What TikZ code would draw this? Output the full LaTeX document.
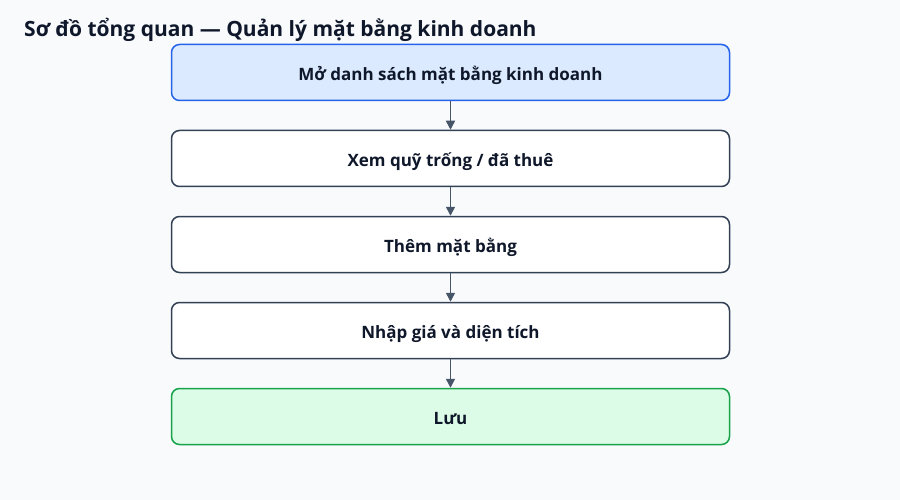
\documentclass[tikz,border=0pt]{standalone}
\usepackage{fontspec}
\setmainfont{Open Sans}
\usepackage{tikz}
\usetikzlibrary{arrows.meta}

\definecolor{bgcol}{HTML}{F8FAFC}
\definecolor{inkcol}{HTML}{0F172A}
\definecolor{edgecol}{HTML}{334155}
\definecolor{arrowcol}{HTML}{475569}
\definecolor{startfill}{HTML}{DBEAFE}
\definecolor{startdraw}{HTML}{2563EB}
\definecolor{endfill}{HTML}{DCFCE7}
\definecolor{enddraw}{HTML}{16A34A}

\begin{document}
\begin{tikzpicture}[x=1pt,y=1pt,
    stepbox/.style={draw=edgecol,fill=white,line width=1.5pt,rounded corners=8pt,
      minimum width=558pt,minimum height=56pt,inner sep=0pt,text height=18pt,text depth=2pt,
      font=\fontsize{17}{20}\selectfont\bfseries,text=inkcol},
    startbox/.style={stepbox,draw=startdraw,fill=startfill},
    endbox/.style={stepbox,draw=enddraw,fill=endfill},
    flow/.style={draw=arrowcol,line width=1.5pt,-{Triangle[length=9pt,width=9pt]}}]
    \useasboundingbox[fill=bgcol] (0,0) rectangle (900,-500);
    \node[anchor=base west,inner sep=0pt,font=\fontsize{21}{25}\selectfont\bfseries,text=inkcol] (title) at (24,-37) {Sơ đồ tổng quan — Quản lý mặt bằng kinh doanh};
    % cac buoc
    \node[startbox] (s1) at (450.5,-72.5) {Mở danh sách mặt bằng kinh doanh};
    \node[stepbox] (s2) at (450.5,-158.5) {Xem quỹ trống / đã thuê};
    \node[stepbox] (s3) at (450.5,-244.5) {Thêm mặt bằng};
    \node[stepbox] (s4) at (450.5,-330.5) {Nhập giá và diện tích};
    \node[endbox] (s5) at (450.5,-416.5) {Lưu};
    \foreach \i/\j in {1/2,2/3,3/4,4/5}
    {
      \draw[flow] (s\i) -- (s\j);
    }
\end{tikzpicture}
\end{document}
